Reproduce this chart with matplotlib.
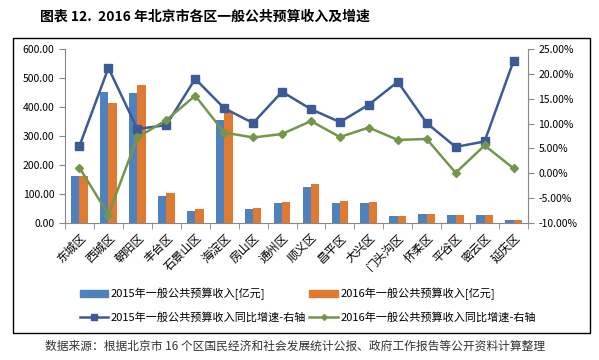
import matplotlib.pyplot as plt
import matplotlib.patches as mpatches
from matplotlib.lines import Line2D
import numpy as np

plt.rcParams['font.family'] = ['Noto Sans CJK SC', 'DejaVu Sans']

# Datos
distritos = ['东城区', '西城区', '朝阳区', '丰台区', '石景山区', '海淀区', '房山区', '通州区',
             '顺义区', '昌平区', '大兴区', '门头沟区', '怀柔区', '平谷区', '密云区', '延庆区']
ingreso_2015 = [163, 451, 447, 93, 42, 356, 47, 68, 124, 70, 68, 24, 31, 26, 27, 10]
ingreso_2016 = [163, 414, 477, 103, 50, 387, 51, 74, 135, 76, 74, 25, 32, 26, 28, 10]
crec_2015 = [5.5, 21.2, 8.9, 9.7, 19.0, 13.1, 10.1, 16.4, 12.9, 10.3, 13.8, 18.4, 10.1, 5.3, 6.4, 22.6]
crec_2016 = [1.1, -8.3, 7.2, 10.7, 15.6, 8.2, 7.2, 7.9, 10.5, 7.3, 9.2, 6.7, 6.9, 0.1, 5.6, 1.0]

c_azul = '#4F81BD'
c_naranja = '#E07A31'
c_linea1 = '#3C5A96'
c_linea2 = '#74964A'

fig = plt.figure(figsize=(5.99, 3.6), dpi=100)
ax = fig.add_axes([65/599, 1-223/360, 463/599, 174/360])

x = np.arange(len(distritos))
w = 0.29
ax.bar(x - w/2, ingreso_2015, w, color=c_azul)
ax.bar(x + w/2, ingreso_2016, w, color=c_naranja)
ax.set_xlim(-0.5, len(distritos) - 0.5)
ax.set_ylim(0, 600)
ax.set_yticks(np.arange(0, 601, 100))
ax.set_yticklabels(['%.2f' % v for v in np.arange(0, 601, 100)], fontsize=7.5)
ax.set_xticks(x)
ax.set_xticklabels(distritos, rotation=45, ha='right', va='top', fontsize=8.5,
                   rotation_mode='anchor')
ax.tick_params(axis='x', length=0, pad=6)
ax.set_xticks(np.arange(-0.5, len(distritos)), minor=True)
ax.tick_params(axis='x', which='minor', length=4, color='#888888')
ax.tick_params(axis='y', length=4, color='#888888')
for s in ['top', 'right']:
    ax.spines[s].set_visible(False)
for s in ['left', 'bottom']:
    ax.spines[s].set_color('#888888')

ax2 = ax.twinx()
ax2.plot(x, crec_2015, color=c_linea1, lw=1.8, marker='s', ms=6)
ax2.plot(x, crec_2016, color=c_linea2, lw=1.8, marker='D', ms=4.5)
ax2.set_ylim(-10, 25)
ax2.set_yticks(np.arange(-10, 26, 5))
ax2.set_yticklabels(['%.2f%%' % v for v in np.arange(-10, 26, 5)], fontsize=7.5)
ax2.tick_params(axis='y', length=4, color='#888888')
for s in ['top', 'left', 'bottom']:
    ax2.spines[s].set_visible(False)
ax2.spines['right'].set_color('#888888')

# Leyenda
handles = [mpatches.Patch(color=c_azul),
           Line2D([], [], color=c_linea1, lw=1.8, marker='s', ms=4),
           mpatches.Patch(color=c_naranja),
           Line2D([], [], color=c_linea2, lw=1.8, marker='D', ms=3)]
labels = ['2015年一般公共预算收入[亿元]', '2015年一般公共预算收入同比增速-右轴',
          '2016年一般公共预算收入[亿元]', '2016年一般公共预算收入同比增速-右轴']
fig.legend(handles, labels, ncol=2, loc='upper left', bbox_to_anchor=(74/599, 1-282/360),
           frameon=False, fontsize=8, handlelength=2.6, handleheight=0.6,
           handletextpad=0.2, columnspacing=0.3, labelspacing=1.1, borderpad=0)

# Marco
fig.patches.append(mpatches.Rectangle((13/599, 1-333/360), 577/599, 295/360,
                                      transform=fig.transFigure, fill=False,
                                      edgecolor='black', lw=1))

fig.text(40/599, 1-17/360, '图表 12.  2016 年北京市各区一般公共预算收入及增速',
         fontsize=10, fontweight='bold', va='center', ha='left')
fig.text(45/599, 1-346/360, '数据来源：根据北京市 16 个区国民经济和社会发展统计公报、政府工作报告等公开资料计算整理',
         fontsize=8.5, va='center', ha='left', color='#333333')

plt.savefig('out.png', dpi=100)
